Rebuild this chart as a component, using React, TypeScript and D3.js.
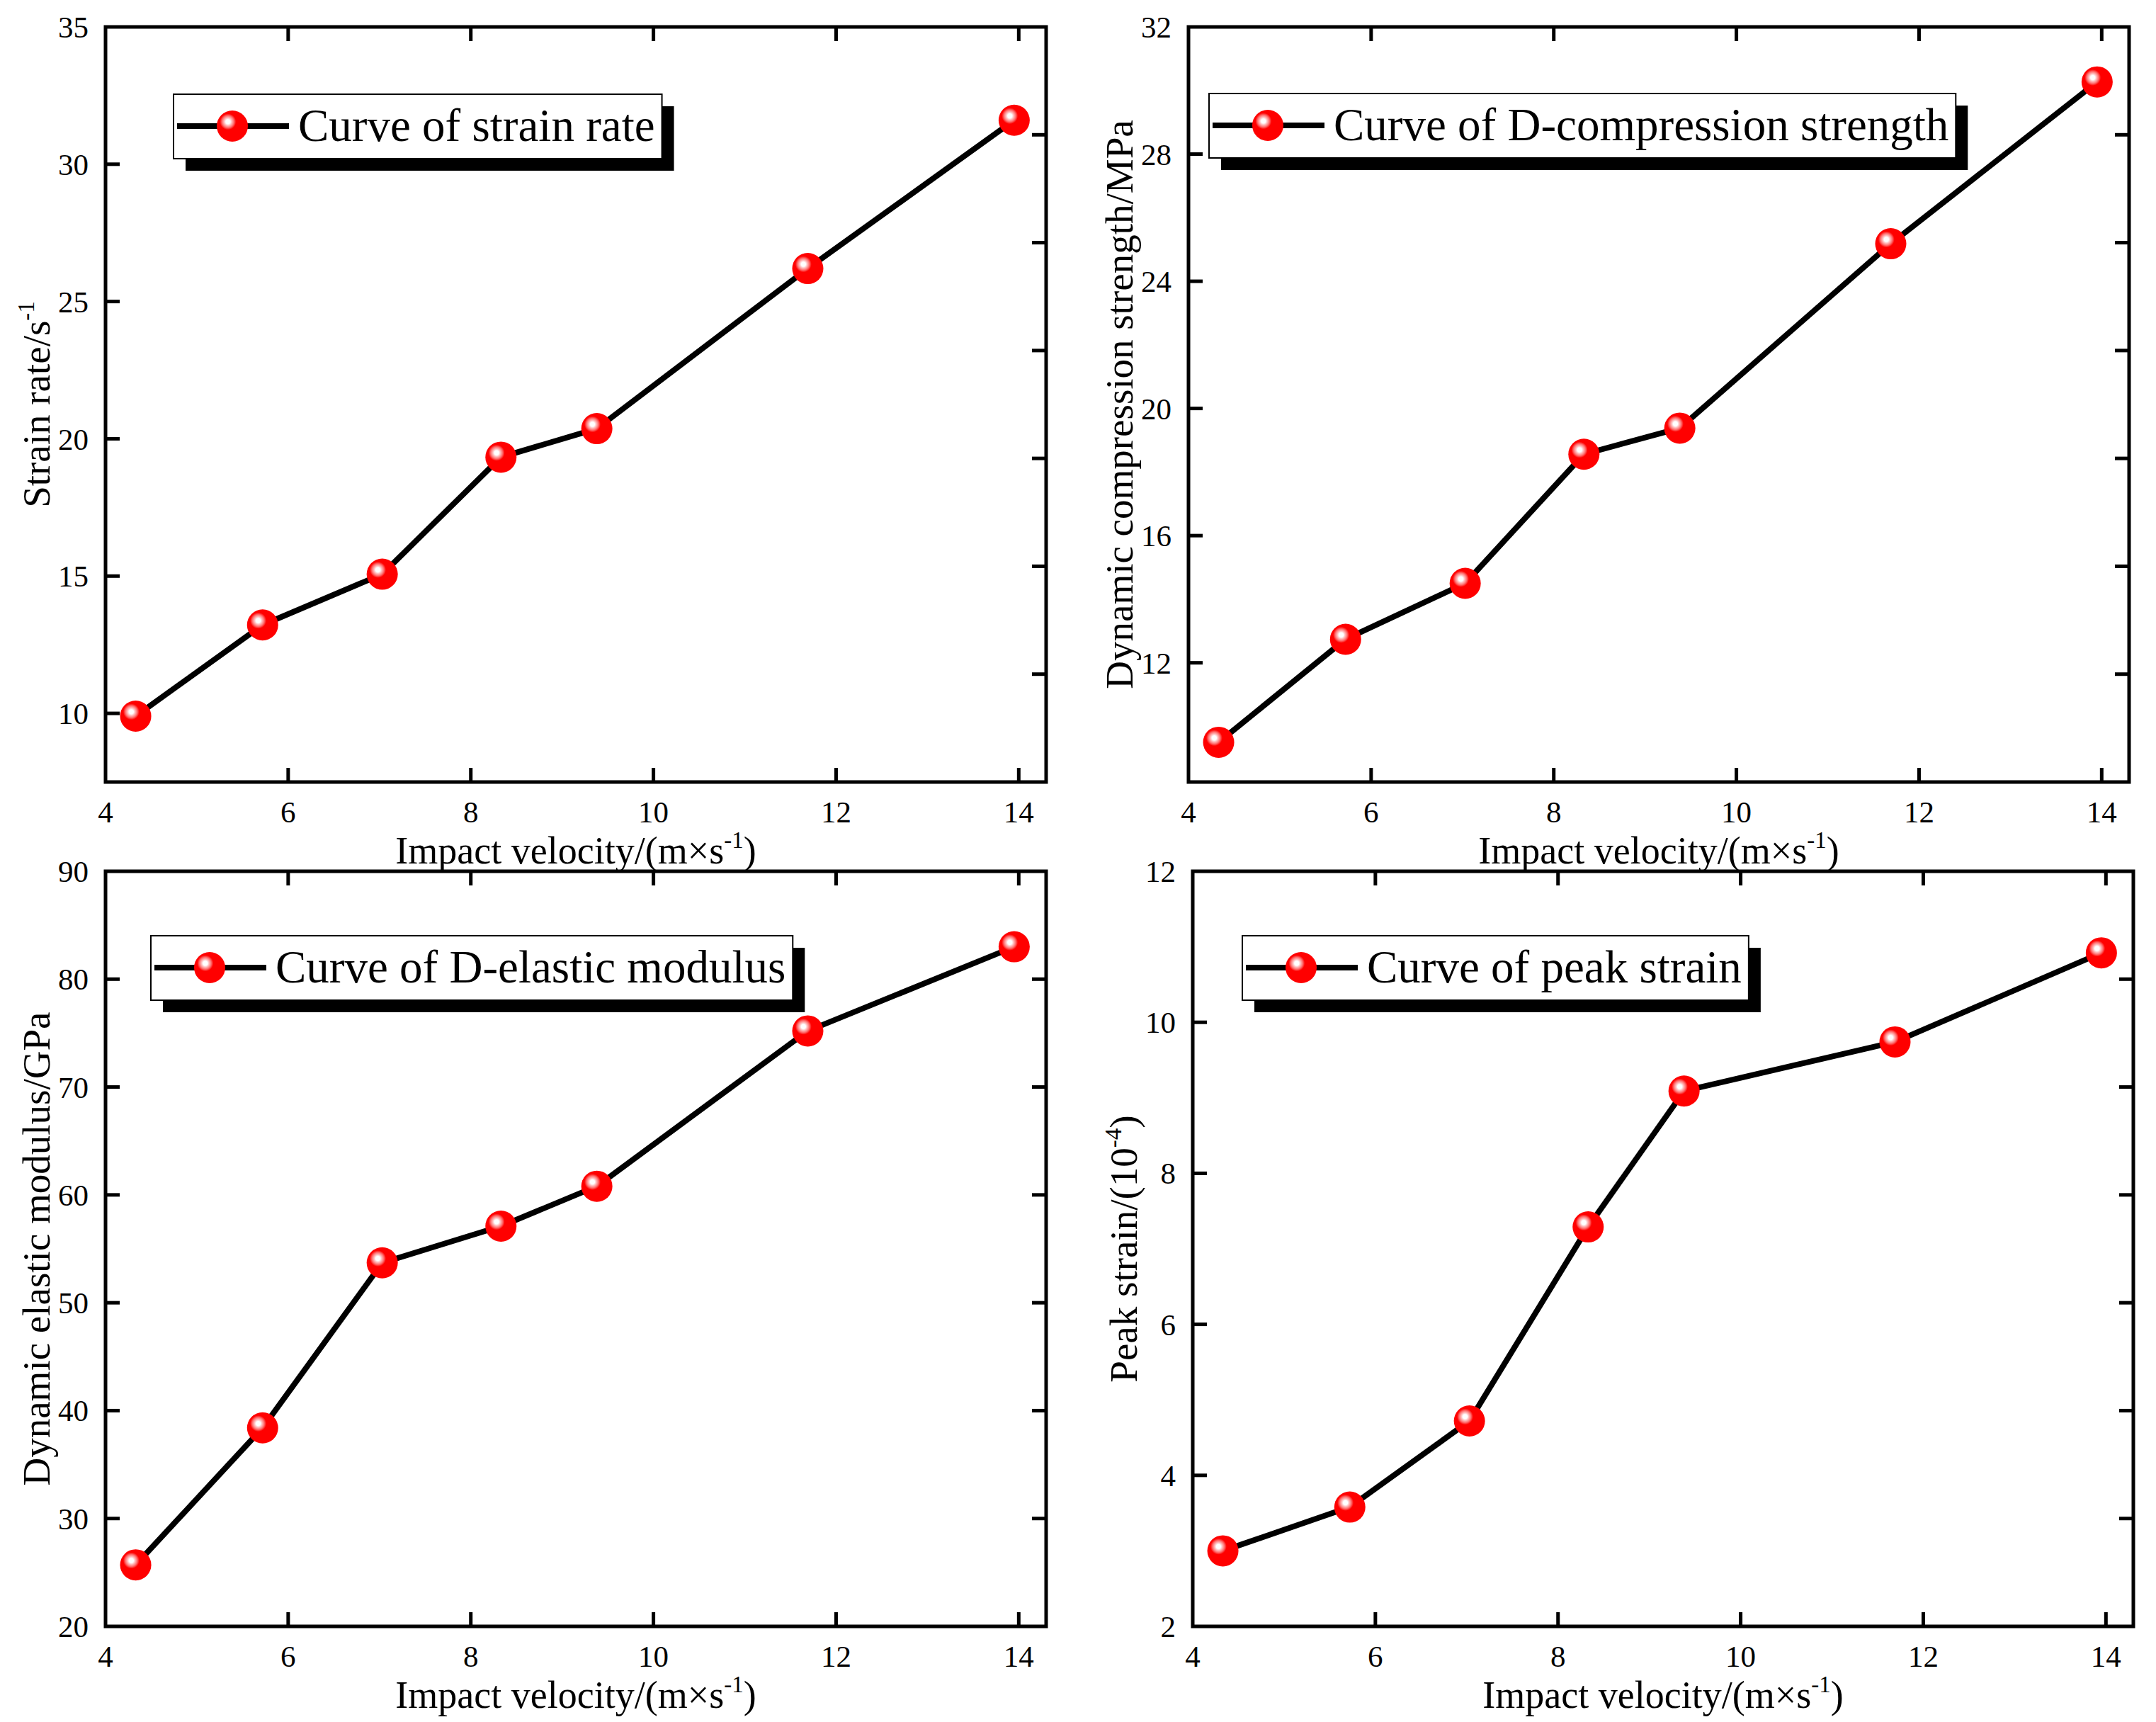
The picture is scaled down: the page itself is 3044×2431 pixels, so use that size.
import { useEffect, useRef } from "react";
import * as d3 from "d3";

// impact velocity (m/s), shared by all four panels
const velocity = [4.33, 5.72, 7.03, 8.33, 9.38, 11.69, 13.95];

const strainRate = [9.9, 13.22, 15.07, 19.33, 20.37, 26.2, 31.6];
const compressionStrength = [9.5, 12.74, 14.5, 18.56, 19.38, 25.18, 30.27];
const elasticModulus = [25.7, 38.4, 53.7, 57.1, 60.8, 75.2, 83.0];
const peakStrain = [3.0, 3.58, 4.72, 7.29, 9.09, 9.74, 10.92];

const xTicks = [4, 6, 8, 10, 12, 14];
const strainRateTicks = [10, 15, 20, 25, 30, 35];
const strengthTicks = [12, 16, 20, 24, 28, 32];
const modulusTicks = [20, 30, 40, 50, 60, 70, 80, 90];
const peakTicks = [2, 4, 6, 8, 10, 12];

const legendNames = [
  "Curve of strain rate",
  "Curve of D-compression strength",
  "Curve of D-elastic modulus",
  "Curve of peak strain",
];

const FONT = "'Liberation Serif', 'Times New Roman', serif";

const panels = [
  {
    box: [149, 38, 1477, 1104],
    values: strainRate,
    yDomain: [7.5, 35],
    yTicks: strainRateTicks,
    yTitle: ["Strain rate/s", "-1", ""],
    legend: legendNames[0],
    legendPos: [96, 95],
  },
  {
    box: [1678, 38, 3006, 1104],
    values: compressionStrength,
    yDomain: [8.25, 32],
    yTicks: strengthTicks,
    yTitle: ["Dynamic compression strength/MPa", "", ""],
    legend: legendNames[1],
    legendPos: [29, 94],
  },
  {
    box: [149, 1230, 1477, 2296],
    values: elasticModulus,
    yDomain: [20, 90],
    yTicks: modulusTicks,
    yTitle: ["Dynamic elastic modulus/GPa", "", ""],
    legend: legendNames[2],
    legendPos: [64, 91],
  },
  {
    box: [1684, 1230, 3012, 2296],
    values: peakStrain,
    yDomain: [2, 12],
    yTicks: peakTicks,
    yTitle: ["Peak strain/(10", "-4", ")"],
    legend: legendNames[3],
    legendPos: [70, 91],
  },
];

function addTitle(sel, parts) {
  sel.append("tspan").text(parts[0]);
  if (parts[1]) {
    sel.append("tspan").attr("dy", -22).attr("font-size", 33).text(parts[1]);
    sel.append("tspan").attr("dy", 22).text(parts[2]);
  }
}

export default function App() {
  const ref = useRef(null);

  useEffect(() => {
    const svg = d3.select(ref.current);
    svg.selectAll("*").remove();

    const defs = svg.append("defs");
    const grad = defs
      .append("radialGradient")
      .attr("id", "ball")
      .attr("cx", 0.36)
      .attr("cy", 0.36)
      .attr("r", 0.5);
    grad.append("stop").attr("offset", 0).attr("stop-color", "#ffffff");
    grad.append("stop").attr("offset", 0.14).attr("stop-color", "#ffffff");
    grad.append("stop").attr("offset", 0.24).attr("stop-color", "#ffc0c0");
    grad.append("stop").attr("offset", 0.38).attr("stop-color", "#ff7070");
    grad.append("stop").attr("offset", 0.52).attr("stop-color", "#ff0000");
    grad.append("stop").attr("offset", 1).attr("stop-color", "#ff0000");

    const tickLen = 20;

    panels.forEach((p) => {
      const [L, T, R, B] = p.box;
      const g = svg.append("g");
      const x = d3.scaleLinear().domain([4, 14.3]).range([L, R]);
      const y = d3.scaleLinear().domain(p.yDomain).range([B, T]);
      // right axis: unlabeled, 7 equal divisions
      const yRight = d3.scaleLinear().domain([0, 7]).range([B, T]);

      // line + markers
      const pts = velocity.map((v, i) => [x(v), y(p.values[i])]);
      g.append("path")
        .attr("d", d3.line()(pts))
        .attr("fill", "none")
        .attr("stroke", "#000")
        .attr("stroke-width", 8)
        .attr("stroke-linejoin", "round");
      g.selectAll("circle.pt")
        .data(pts)
        .join("circle")
        .attr("class", "pt")
        .attr("cx", (d) => d[0])
        .attr("cy", (d) => d[1])
        .attr("r", 22)
        .attr("fill", "url(#ball)");

      // ticks
      const tk = g.append("g").attr("stroke", "#000").attr("stroke-width", 5);
      xTicks
        .filter((t) => t > 4)
        .forEach((t) => {
          tk.append("line").attr("x1", x(t)).attr("x2", x(t)).attr("y1", B).attr("y2", B - tickLen);
          tk.append("line").attr("x1", x(t)).attr("x2", x(t)).attr("y1", T).attr("y2", T + tickLen);
        });
      p.yTicks
        .filter((t) => y(t) > T + 2 && y(t) < B - 2)
        .forEach((t) => {
          tk.append("line").attr("x1", L).attr("x2", L + tickLen).attr("y1", y(t)).attr("y2", y(t));
        });
      d3.range(1, 7).forEach((t) => {
        tk.append("line")
          .attr("x1", R)
          .attr("x2", R - tickLen)
          .attr("y1", yRight(t))
          .attr("y2", yRight(t));
      });

      // frame
      g.append("rect")
        .attr("x", L)
        .attr("y", T)
        .attr("width", R - L)
        .attr("height", B - T)
        .attr("fill", "none")
        .attr("stroke", "#000")
        .attr("stroke-width", 5);

      // tick labels
      const lab = g.append("g").attr("font-family", FONT).attr("font-size", 43).attr("fill", "#000");
      xTicks.forEach((t) => {
        lab.append("text").attr("x", x(t)).attr("y", B + 57).attr("text-anchor", "middle").text(t);
      });
      p.yTicks.forEach((t) => {
        lab.append("text")
          .attr("x", L - 24)
          .attr("y", y(t))
          .attr("dy", "0.35em")
          .attr("text-anchor", "end")
          .text(t);
      });

      // axis titles
      const xt = g
        .append("text")
        .attr("x", (L + R) / 2)
        .attr("y", B + 115)
        .attr("text-anchor", "middle")
        .attr("font-family", FONT)
        .attr("font-size", 54);
      addTitle(xt, ["Impact velocity/(m×s", "-1", ")"]);

      const yt = g
        .append("text")
        .attr("transform", `translate(${L - 79},${(T + B) / 2}) rotate(-90)`)
        .attr("text-anchor", "middle")
        .attr("font-family", FONT)
        .attr("font-size", 55);
      addTitle(yt, p.yTitle);

      // legend
      const lx = L + p.legendPos[0];
      const ly = T + p.legendPos[1];
      const lg = g.append("g");
      const shadow = lg.append("rect").attr("fill", "#000");
      const frame = lg.append("rect").attr("fill", "#fff").attr("stroke", "#000").attr("stroke-width", 2);
      lg.append("line")
        .attr("x1", lx + 5)
        .attr("x2", lx + 163)
        .attr("y1", ly + 45)
        .attr("y2", ly + 45)
        .attr("stroke", "#000")
        .attr("stroke-width", 8);
      lg.append("circle").attr("cx", lx + 83).attr("cy", ly + 45).attr("r", 22).attr("fill", "url(#ball)");
      const txt = lg
        .append("text")
        .attr("x", lx + 176)
        .attr("y", ly + 66)
        .attr("font-family", FONT)
        .attr("font-size", 65)
        .text(p.legend);
      const w = 176 + txt.node().getComputedTextLength() + 10;
      frame.attr("x", lx).attr("y", ly).attr("width", w).attr("height", 91);
      shadow.attr("x", lx + 17).attr("y", ly + 17).attr("width", w).attr("height", 91);
    });
  }, []);

  return (
    <svg
      ref={ref}
      width={3044}
      height={2431}
      style={{ position: "absolute", left: 0, top: 0, background: "#fff" }}
    />
  );
}
